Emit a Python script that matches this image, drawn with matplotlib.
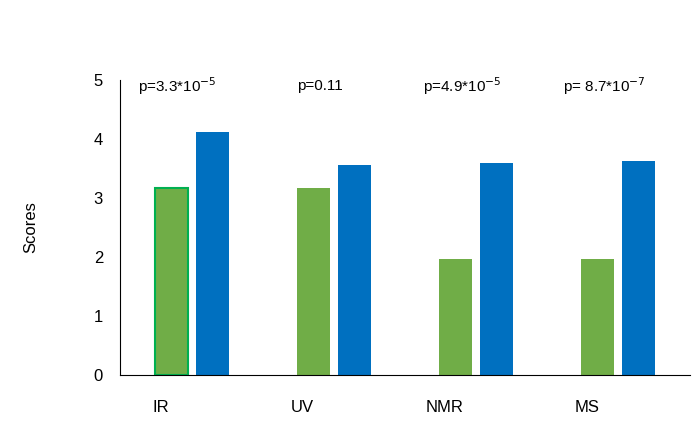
import numpy as np
import matplotlib.pyplot as plt

categories = ["IR", "UV", "NMR", "MS"]
green_vals = [3.17, 3.17, 1.97, 1.97]
blue_vals = [4.12, 3.56, 3.59, 3.63]
p_labels = [r"p=3.3*10$^{-5}$", "p=0.11", r"p=4.9*10$^{-5}$", r"p= 8.7*10$^{-7}$"]

fig = plt.figure(figsize=(7, 4.38), dpi=100)
ax = fig.add_axes([0.171, 0.144, 0.815, 0.673])

x = np.arange(len(categories))
w = 0.232
ax.bar(x - 0.144, green_vals, w, color="#70AD47")
ax.bar(x[0] - 0.144, green_vals[0], w, color="#70AD47", edgecolor="#00B050", linewidth=1.5)
ax.bar(x + 0.144, blue_vals, w, color="#0070C0")

for xi, p in zip(x, p_labels):
    ax.text(xi - 0.1, 4.9, p, ha="center", va="center", fontsize=11, family="Calibri, Liberation Sans".split(", ")[1])

ax.set_xlim(-0.507, 3.507)
ax.set_ylim(0, 5)
ax.set_yticks(range(6))
ax.set_xticks(x - 0.22)
ax.set_xticklabels(categories)
ax.tick_params(axis="x", length=0, pad=18, labelsize=12)
ax.tick_params(axis="y", length=0, pad=12, labelsize=12)
for s in ["top", "right"]:
    ax.spines[s].set_visible(False)
ax.spines["left"].set_color("black")
ax.spines["bottom"].set_color("black")
for lbl in ax.get_xticklabels() + ax.get_yticklabels():
    lbl.set_family("Liberation Sans")
ax.set_ylabel("Scores", fontsize=12, family="Liberation Sans", labelpad=40)

fig.savefig("out.png", dpi=100)
